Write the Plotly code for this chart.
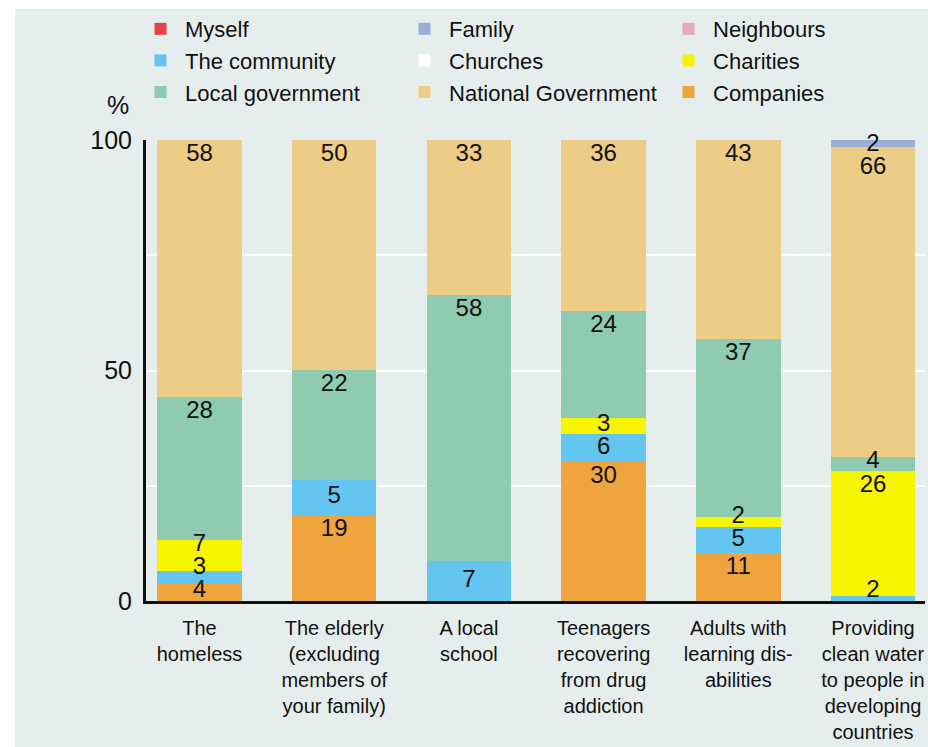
import numpy as np
import plotly.graph_objects as go

# ---------------- data ----------------
categories = [
    "The<br>homeless",
    "The elderly<br>(excluding<br>members of<br>your family)",
    "A local<br>school",
    "Teenagers<br>recovering<br>from drug<br>addiction",
    "Adults with<br>learning dis-<br>abilities",
    "Providing<br>clean water<br>to people in<br>developing<br>countries",
]

# segment sizes (% of bar) as drawn, in stacking order (bottom -> top)
companies = [3.6, 18.7, 0, 30.2, 10.4, 0]
community = [3.0, 7.6, 8.7, 6.1, 5.7, 1.1]
charities = [6.7, 0, 0, 3.5, 2.2, 27.2]
local_gov = [30.9, 23.9, 57.6, 23.0, 38.5, 2.9]
national_gov = [55.8, 49.8, 33.7, 37.2, 43.3, 67.2]
family = [0, 0, 0, 0, 0, 1.7]
myself = [0, 0, 0, 0, 0, 0]
neighbours = [0, 0, 0, 0, 0, 0]
churches = [0, 0, 0, 0, 0, 0]

# printed value labels
companies_lbl = [4, 19, None, 30, 11, None]
community_lbl = [3, 5, 7, 6, 5, 2]
charities_lbl = [7, None, None, 3, 2, 26]
local_gov_lbl = [28, 22, 58, 24, 37, 4]
national_gov_lbl = [58, 50, 33, 36, 43, 66]
family_lbl = [None, None, None, None, None, 2]

y_ticks = [0, 25, 50, 75, 100]
y_ticktext = ["0", "", "50", "", "100"]

# ---------------- styling ----------------
BG = "#e6eeed"
REG = "Liberation Sans, Arial, Helvetica, sans-serif"
INK = "#111111"
Y_MAX = 100

series = [
    # name, values, labels, color, legend rank
    ("Companies", companies, companies_lbl, "#f0a43e", 9),
    ("The community", community, community_lbl, "#63c5f0", 4),
    ("Charities", charities, charities_lbl, "#f7f400", 6),
    ("Local government", local_gov, local_gov_lbl, "#8ecbb0", 7),
    ("National Government", national_gov, national_gov_lbl, "#edcc85", 8),
    ("Family", family, family_lbl, "#9aaed8", 2),
    ("Myself", myself, [None] * 6, "#e8434b", 1),
    ("Neighbours", neighbours, [None] * 6, "#e6a8bc", 3),
    ("Churches", churches, [None] * 6, "#ffffff", 5),
]

fig = go.Figure()
for name, vals, _, col, rank in series:
    fig.add_trace(go.Bar(
        x=categories, y=vals, name=name, legendrank=rank,
        marker=dict(color=col, line=dict(width=0)),
        hoverinfo="name+y",
    ))

# value labels: near the top of tall segments, centred in short ones,
# spread apart so that labels in one bar never overlap
TOP_PAD = 3.25      # label centre below segment top (axis units)
MIN_GAP = 5.0       # min distance between label centres (axis units)
FLOOR = 2.2         # lowest label centre
CEIL = Y_MAX - 1.0  # highest label centre
BIG = 10            # segments at least this tall get top-anchored labels
n = len(categories)
per_bar = [[] for _ in range(n)]   # (label, desired y) bottom -> top
base = np.zeros(n)
for name, vals, lbls, col, rank in series:
    v = np.array(vals, dtype=float)
    top = base + v
    for i, lab in enumerate(lbls):
        if lab is None:
            continue
        yc = top[i] - TOP_PAD if v[i] >= BIG else (base[i] + top[i]) / 2
        per_bar[i].append([str(lab), yc])
    base = top

lx, ly, lt = [], [], []
for i, items in enumerate(per_bar):
    prev = -1e9
    for it in items:                      # upward pass
        it[1] = max(it[1], FLOOR, prev + MIN_GAP)
        prev = it[1]
    nxt = 1e9
    for it in reversed(items):            # downward pass
        it[1] = min(it[1], CEIL, nxt - MIN_GAP)
        nxt = it[1]
    for lab, yc in items:
        lx.append(categories[i])
        ly.append(yc)
        lt.append(lab)

fig.add_trace(go.Scatter(
    x=lx, y=ly, text=lt, mode="text", textposition="middle center",
    textfont=dict(family=REG, size=24, color=INK),
    showlegend=False, hoverinfo="skip", cliponaxis=False,
))

fig.update_layout(
    width=928, height=747,
    barmode="stack", bargap=0.373,
    paper_bgcolor="white", plot_bgcolor="rgba(0,0,0,0)",
    margin=dict(l=146, r=3, t=140, b=146, autoexpand=False),
    font=dict(family=REG, color=INK),
    legend=dict(
        orientation="h", x=-0.0128, xanchor="left", y=1.2863, yanchor="top",
        itemwidth=39, entrywidth=210, entrywidthmode="pixels",
        font=dict(family=REG, size=22, color=INK),
        bgcolor="rgba(0,0,0,0)", borderwidth=0,
        traceorder="normal", valign="middle",
    ),
    xaxis=dict(
        type="category", range=[-0.397, 5.386],
        showline=True, linecolor=INK, linewidth=3,
        showgrid=False, zeroline=False, ticks="",
        tickfont=dict(family=REG, size=20, color=INK),
        ticklabelstandoff=7,
    ),
    yaxis=dict(
        range=[0, Y_MAX], tickvals=y_ticks, ticktext=y_ticktext,
        showline=True, linecolor=INK, linewidth=3,
        showgrid=True, gridcolor="white", gridwidth=2, zeroline=False,
        ticks="", tickfont=dict(family=REG, size=25, color=INK),
        ticklabelstandoff=6,
    ),
    shapes=[dict(
        type="rect", xref="paper", yref="paper", layer="below",
        x0=-0.1682, x1=1.01, y0=-0.35, y1=1.2842,
        fillcolor=BG, line=dict(width=0),
    )],
    annotations=[dict(
        text="%", xref="paper", yref="paper", x=-0.036, y=1.076,
        xanchor="center", yanchor="middle",
        showarrow=False, font=dict(family=REG, size=25, color=INK),
    )],
)

fig.write_html(
    "out.html",
    config={"displayModeBar": False},
    post_script="document.body.style.margin='0';document.body.style.overflow='hidden';",
)
